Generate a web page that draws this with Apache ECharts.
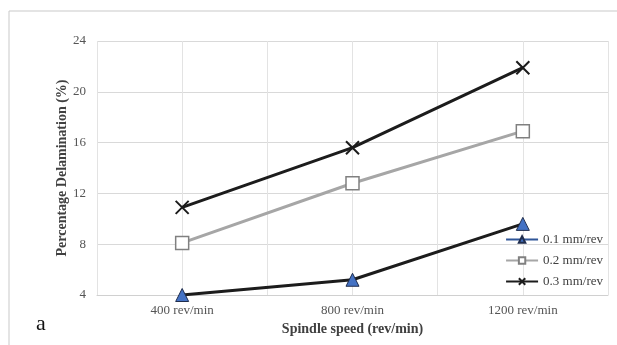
<!DOCTYPE html>
<html>
<head>
<meta charset="utf-8">
<script src="https://cdn.jsdelivr.net/npm/echarts@6/dist/echarts.min.js"></script>
<style>
  html, body { margin: 0; padding: 0; background: #fff; }
  #chart { width: 617px; height: 345px; }
</style>
</head>
<body>
<div id="chart"></div>
<script>
// spindle speeds on the x axis
const categories = ['400 rev/min', '800 rev/min', '1200 rev/min']
// feed rates -> percentage delamination
const feed01 = [4.0, 5.2, 9.6]
const feed02 = [8.1, 12.8, 16.9]
const feed03 = [10.9, 15.6, 21.9]
const seriesNames = ['0.1 mm/rev', '0.2 mm/rev', '0.3 mm/rev']
// half-step slots, only used to draw the vertical grid lines
const gridSlots = ['', '', '', '', '', '']

const serif = '"Liberation Serif", "DejaVu Serif", serif'
const crossPath = 'path://M0,0L10,10M10,0L0,10'

const chart = echarts.init(document.getElementById('chart'))

chart.setOption({
  animation: false,
  backgroundColor: '#fff',
  textStyle: { fontFamily: serif },
  grid: { left: 97, right: 9, top: 41, bottom: 50 },
  graphic: [
    // figure frame (top and left edges)
    { type: 'line', shape: { x1: 9, y1: 11, x2: 617, y2: 11 }, style: { stroke: '#c9c9c9', lineWidth: 1 } },
    { type: 'line', shape: { x1: 9, y1: 11, x2: 9, y2: 345 }, style: { stroke: '#c9c9c9', lineWidth: 1 } },
    {
      type: 'text', left: 36, top: 313,
      style: { text: 'a', font: '22px ' + serif, fill: '#111' }
    }
  ],
  legend: {
    orient: 'vertical',
    right: 9,
    top: 228,
    itemGap: 8,
    itemWidth: 32,
    itemHeight: 8,
    textStyle: { fontFamily: serif, fontSize: 13, color: '#404040' },
    data: [
      { name: seriesNames[0], lineStyle: { color: '#2f5597' } },
      { name: seriesNames[1] },
      { name: seriesNames[2] }
    ]
  },
  xAxis: [
    {
      type: 'category',
      data: categories,
      boundaryGap: true,
      name: 'Spindle speed (rev/min)',
      nameLocation: 'middle',
      nameGap: 27,
      nameTextStyle: { fontFamily: serif, fontSize: 14, fontWeight: 'bold', color: '#404040' },
      axisLine: { lineStyle: { color: '#d0d0d0', width: 1 } },
      axisTick: { show: false },
      axisLabel: { margin: 9, fontFamily: serif, fontSize: 13, color: '#555' },
      splitLine: { show: false }
    },
    {
      type: 'category',
      data: gridSlots,
      boundaryGap: true,
      position: 'bottom',
      axisLine: { show: false },
      axisTick: { show: false },
      axisLabel: { show: false },
      splitLine: { show: true, interval: 0, lineStyle: { color: '#e3e3e3', width: 1 } }
    }
  ],
  yAxis: {
    type: 'value',
    min: 4,
    max: 24,
    interval: 4,
    name: 'Percentage Delamination (%)',
    nameLocation: 'middle',
    nameGap: 28,
    nameMoveOverlap: false,
    nameTextStyle: { fontFamily: serif, fontSize: 14, fontWeight: 'bold', color: '#404040' },
    axisLine: { show: false },
    axisTick: { show: false },
    axisLabel: { margin: 11, fontFamily: serif, fontSize: 13, color: '#555' },
    splitLine: { lineStyle: { color: '#d9d9d9', width: 1 } }
  },
  series: [
    {
      name: seriesNames[0],
      type: 'line',
      data: feed01,
      symbol: 'triangle',
      symbolSize: 13,
      lineStyle: { color: '#1c1c1c', width: 3 },
      itemStyle: { color: '#4472c4', borderColor: '#1f2d4d', borderWidth: 1 },
      z: 3
    },
    {
      name: seriesNames[1],
      type: 'line',
      data: feed02,
      symbol: 'rect',
      symbolSize: 13,
      lineStyle: { color: '#a6a6a6', width: 3 },
      itemStyle: { color: '#fff', borderColor: '#808080', borderWidth: 1.5 },
      z: 3
    },
    {
      name: seriesNames[2],
      type: 'line',
      data: feed03,
      symbol: crossPath,
      symbolSize: 13,
      lineStyle: { color: '#1c1c1c', width: 3 },
      itemStyle: { color: '#1c1c1c', borderColor: '#1c1c1c', borderWidth: 2 },
      z: 3
    }
  ]
})
</script>
</body>
</html>
